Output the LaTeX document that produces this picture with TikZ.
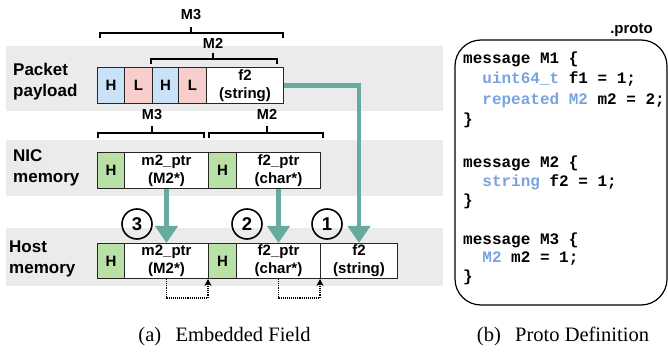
\documentclass[tikz,border=0pt]{standalone}
\usepackage{fontspec}
\setmainfont{Liberation Sans}
\setmonofont{Liberation Mono}
\newfontfamily\capfont{Liberation Serif}
\usetikzlibrary{arrows.meta}
\definecolor{bandgray}{HTML}{EBEBEB}
\definecolor{hblue}{HTML}{C9E2F8}
\definecolor{lpink}{HTML}{F8CECC}
\definecolor{hgreen}{HTML}{B9E0A5}
\definecolor{tealarrow}{HTML}{67AB9F}
\definecolor{pblue}{HTML}{78A3E0}
\tikzset{
  cell/.style={draw=black!85, line width=1pt, minimum height=36pt, inner sep=0pt,
    anchor=north west, align=center, fill=white,
    font=\bfseries\fontsize{15}{18}\selectfont},
  rowlabel/.style={anchor=base west, align=left, inner sep=0pt,
    font=\bfseries\fontsize{17}{21}\selectfont},
  brlabel/.style={anchor=base, inner sep=0pt, font=\bfseries\fontsize{14.5}{17}\selectfont},
  brack/.style={line width=1.3pt, black},
  garrow/.style={draw=tealarrow, line width=4.5pt,
    -{Triangle[width=22pt,length=17pt]}, color=tealarrow},
  numcirc/.style={shape=circle, draw, line width=1.6pt, minimum size=30pt, inner sep=0pt,
    font=\bfseries\fontsize{18.5}{21}\selectfont},
  dotarrow/.style={draw=black, line width=1.1pt, densely dotted, -{Stealth[length=7pt,width=7pt]}},
  code/.style={anchor=mid west, inner sep=0pt, font=\ttfamily\bfseries\fontsize{16}{19}\selectfont},
  caption/.style={anchor=base, inner sep=0pt, font=\capfont\fontsize{20.5}{24}\selectfont}
}
\begin{document}
\begin{tikzpicture}[x=1pt,y=-1pt]
\useasboundingbox (0,0) rectangle (668,352);
% bands
\fill[bandgray] (6,46) rectangle (443,111);
\fill[bandgray] (6,140) rectangle (443,196);
\fill[bandgray] (6,228) rectangle (443,286);
% row labels
\node[rowlabel] (lpk) at (13,97) {Packet\\payload};
\node[rowlabel] (lnic) at (13,183) {NIC\\memory};
\node[rowlabel] (lhost) at (9,273) {Host\\memory};
% packet payload
\node[cell, fill=hblue, minimum width=27pt] (p1) at (97,67) {H};
\node[cell, fill=lpink, minimum width=28pt] (p2) at (124,67) {L};
\node[cell, fill=hblue, minimum width=26pt] (p3) at (152,67) {H};
\node[cell, fill=lpink, minimum width=28pt] (p4) at (178,67) {L};
\node[cell, minimum width=77pt] (pf2) at (206,67) {f2\\(string)};
% NIC memory
\node[cell, fill=hgreen, minimum width=27pt] (n1) at (97,152) {H};
\node[cell, minimum width=84pt] (n2) at (124,152) {m2\_ptr\\(M2*)};
\node[cell, fill=hgreen, minimum width=28pt] (n3) at (208,152) {H};
\node[cell, minimum width=84pt] (n4) at (236,152) {f2\_ptr\\(char*)};
% Host memory
\node[cell, fill=hgreen, minimum width=27pt, minimum height=35pt] (h1) at (97,243) {H};
\node[cell, minimum width=84pt, minimum height=35pt] (h2) at (124,243) {m2\_ptr\\(M2*)};
\node[cell, fill=hgreen, minimum width=28pt, minimum height=35pt] (h3) at (208,243) {H};
\node[cell, minimum width=84pt, minimum height=35pt] (h4) at (236,243) {f2\_ptr\\(char*)};
\node[cell, minimum width=77pt, minimum height=35pt] (h5) at (320,243) {f2\\(string)};
% brackets above packet
\draw[brack] (100,38) -- (100,33) -- (283,33) -- (283,38);
\draw[brack] (191,33) -- (191,27);
\node[brlabel] (bm3) at (191,19.5) {M3};
\draw[brack] (151,64) -- (151,59) -- (277,59) -- (277,64);
\draw[brack] (213,59) -- (213,53);
\node[brlabel] (bm2) at (213,48.5) {M2};
% brackets above NIC
\draw[brack] (98,138) -- (98,133) -- (204,133) -- (204,138);
\draw[brack] (152,133) -- (152,126);
\node[brlabel] (nm3) at (152,119.5) {M3};
\draw[brack] (209,138) -- (209,133) -- (323,133) -- (323,138);
\draw[brack] (267,133) -- (267,126);
\node[brlabel] (nm2) at (267,119.5) {M2};
% green arrows
\draw[garrow] (n2.south) -- (h2.north);
\draw[garrow] (n4.south) -- (h4.north);
\draw[garrow] (pf2.east) -| (h5.north);
% circled numbers
\node[numcirc] (c3) at (137,224) {3};
\node[numcirc] (c2) at (247,224) {2};
\node[numcirc] (c1) at (327,224) {1};
% dotted arrows
\draw[dotarrow] (h2.south) -- ++(0,19) -| (h3.south west);
\draw[dotarrow] (h4.south) -- ++(0,19) -| (h5.south west);
% proto box
\draw[line width=1.2pt, rounded corners=26pt] (455,40) rectangle (667,305);
\node[anchor=base east, inner sep=0pt, font=\bfseries\fontsize{15}{18}\selectfont] (ptitle) at (653,34) {.proto};
\node[code] (c01) at (463,60.7) {message M1 \{};
\node[code] (c02) at (463,81.2) {\phantom{xx}\textcolor{pblue}{uint64\_t} f1 = 1;};
\node[code] (c03) at (463,101.6) {\phantom{xx}\textcolor{pblue}{repeated M2} m2 = 2;};
\node[code] (c04) at (463,121.8) {\}};
\node[code] (c05) at (463,165) {message M2 \{};
\node[code] (c06) at (463,184) {\phantom{xx}\textcolor{pblue}{string} f2 = 1;};
\node[code] (c07) at (463,203) {\}};
\node[code] (c08) at (463,241.5) {message M3 \{};
\node[code] (c09) at (463,260) {\phantom{xx}\textcolor{pblue}{M2} m2 = 1;};
\node[code] (c10) at (463,278.5) {\}};
% captions
\node[caption] (capa) at (224.5,341) {(a)\hspace{0.7em}Embedded Field};
\node[caption] (capb) at (563,341) {(b)\hspace{0.7em}Proto Definition};
\end{tikzpicture}
\end{document}
